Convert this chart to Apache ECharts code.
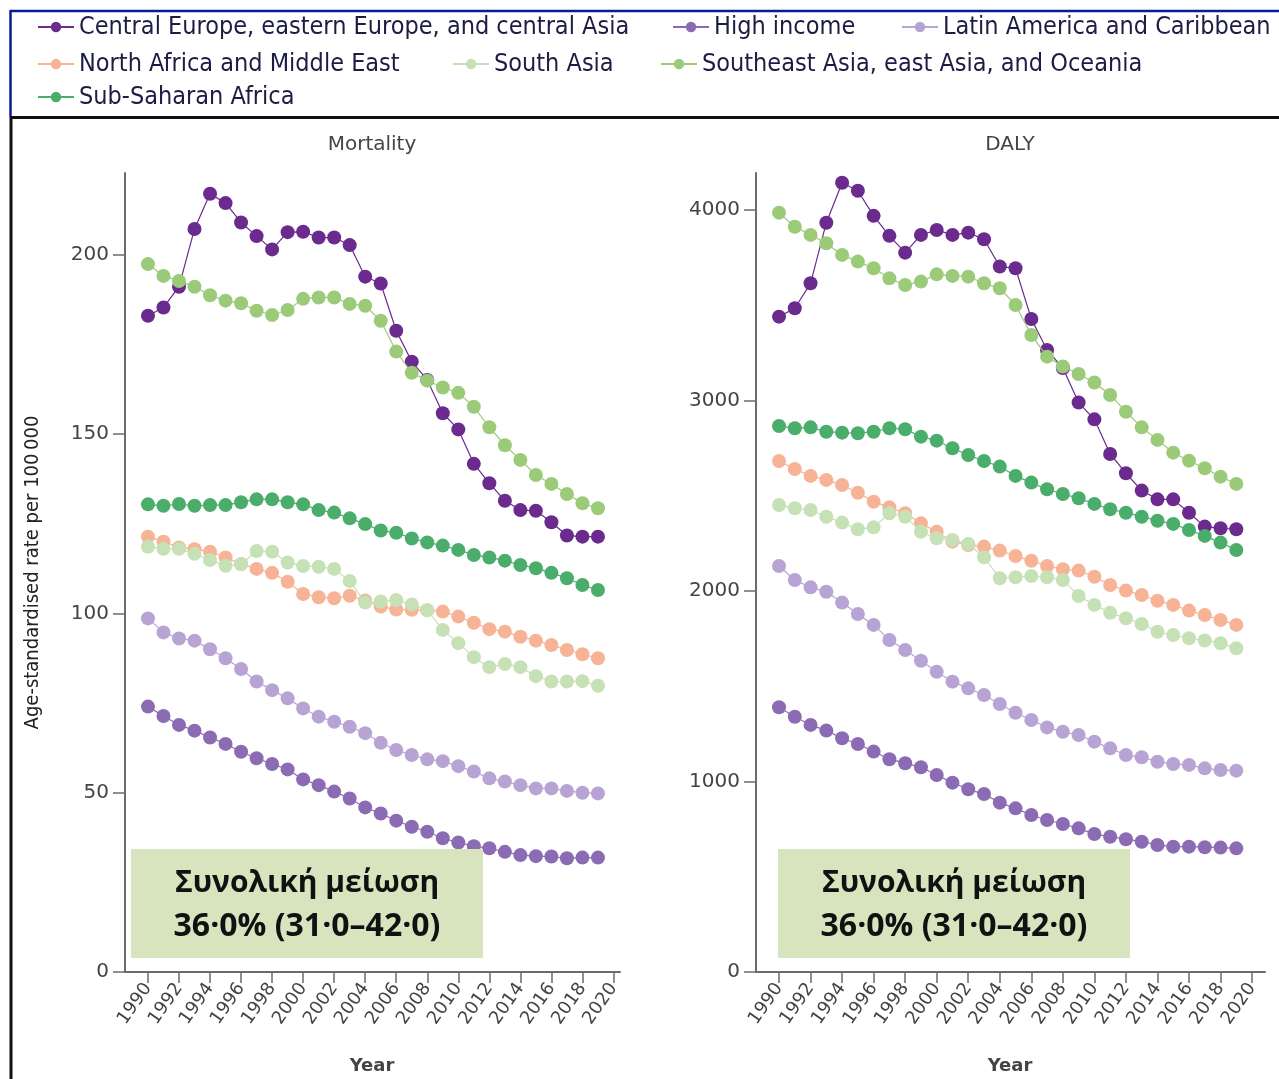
<!DOCTYPE html>
<html>
<head>
<meta charset="utf-8">
<script src="https://cdn.jsdelivr.net/npm/echarts@6/dist/echarts.min.js"></script>
<style>
html,body{margin:0;padding:0;background:#fff;}
#chart{width:1279px;height:1079px;}
</style>
</head>
<body>
<div id="chart"></div>
<script>
// ---------- DATA ----------
const years = [1990,1991,1992,1993,1994,1995,1996,1997,1998,1999,2000,2001,2002,2003,2004,2005,2006,2007,2008,2009,2010,2011,2012,2013,2014,2015,2016,2017,2018,2019];
const yearTicks = [1990,1992,1994,1996,1998,2000,2002,2004,2006,2008,2010,2012,2014,2016,2018,2020];
const mortalityTicks = [0,50,100,150,200];
const dalyTicks = [0,1000,2000,3000,4000];

const regionNames = [
  'Central Europe, eastern Europe, and central Asia',
  'High income',
  'Latin America and Caribbean',
  'North Africa and Middle East',
  'South Asia',
  'Southeast Asia, east Asia, and Oceania',
  'Sub-Saharan Africa'
];

// Mortality (age-standardised rate per 100 000)
const mortCentralEurope = [183,185.3,191.1,207.2,217,214.4,209,205.2,201.5,206.3,206.4,204.8,204.8,202.7,193.9,192,178.8,170.2,165.1,155.8,151.3,141.7,136.3,131.4,128.8,128.6,125.4,121.7,121.4,121.4];
const mortHighIncome    = [74,71.4,68.9,67.3,65.4,63.6,61.4,59.6,58,56.5,53.7,52.1,50.3,48.4,45.9,44.2,42.2,40.5,39.1,37.3,36.1,35.1,34.5,33.5,32.6,32.3,32.2,31.7,31.9,31.9];
const mortLatinAmerica  = [98.6,94.7,93,92.4,90,87.5,84.5,81,78.6,76.3,73.5,71.2,69.8,68.4,66.6,63.9,61.9,60.5,59.3,58.8,57.4,55.9,54,53.1,52.1,51.2,51.2,50.5,50,49.8];
const mortNorthAfrica   = [121.4,120,118.4,117.9,117.2,115.6,113.8,112.4,111.3,108.8,105.4,104.5,104.2,104.9,103.6,101.9,101.1,101,100.9,100.5,99.1,97.4,95.6,94.9,93.5,92.4,91.2,89.8,88.6,87.5];
const mortSouthAsia     = [118.6,118,118,116.6,114.9,113.3,113.7,117.4,117.2,114.2,113.2,113,112.4,109,103,103.3,103.7,102.5,100.9,95.4,91.7,87.8,85,85.9,85,82.5,81,81,81.1,79.8];
const mortSoutheastAsia = [197.4,194.1,192.7,191.1,188.7,187.2,186.5,184.4,183.2,184.6,187.7,188.1,188.1,186.3,185.8,181.6,173,167.1,164.9,163,161.5,157.6,151.9,146.9,142.8,138.6,136.1,133.3,130.7,129.3];
const mortSubSaharan    = [130.4,130,130.5,130,130.2,130.2,131,131.8,131.8,131,130.4,128.8,128.1,126.5,124.9,123.1,122.5,120.9,119.8,118.9,117.7,116.3,115.6,114.7,113.5,112.6,111.3,109.8,107.9,106.5];

// DALY (age-standardised rate per 100 000)
const dalyCentralEurope = [3440,3484,3615,3933,4143,4101,3969,3864,3776,3869,3895,3869,3881,3846,3703,3694,3428,3265,3170,2989,2901,2719,2618,2527,2481,2481,2411,2338,2329,2324];
const dalyHighIncome    = [1390,1340,1297,1267,1227,1197,1157,1117,1096,1075,1034,994,959,934,889,859,824,798,777,754,724,710,697,684,667,658,658,655,653,649];
const dalyLatinAmerica  = [2131,2058,2019,1996,1939,1879,1822,1743,1690,1634,1576,1524,1489,1454,1407,1361,1323,1284,1261,1244,1209,1174,1139,1127,1104,1092,1087,1069,1060,1057];
const dalyNorthAfrica   = [2682,2640,2604,2583,2556,2516,2469,2439,2408,2355,2311,2259,2241,2233,2212,2184,2159,2131,2114,2107,2075,2031,2002,1979,1949,1927,1897,1874,1848,1822];
const dalySouthAsia     = [2451,2434,2425,2390,2359,2324,2334,2408,2390,2311,2277,2268,2247,2177,2067,2072,2079,2072,2058,1974,1927,1886,1857,1827,1786,1769,1752,1740,1726,1699];
const dalySoutheastAsia = [3986,3912,3869,3825,3764,3729,3694,3641,3606,3624,3662,3654,3650,3615,3589,3501,3344,3230,3178,3139,3094,3029,2941,2859,2793,2726,2684,2644,2600,2562];
const dalySubSaharan    = [2866,2854,2859,2836,2831,2828,2836,2854,2849,2810,2789,2749,2714,2682,2653,2604,2569,2534,2509,2487,2457,2429,2411,2390,2369,2352,2320,2289,2254,2215];

const panelTitles = ['Mortality', 'DALY'];
const axisTitleY = 'Age-standardised rate per 100\u2009000';
const axisTitleX = 'Year';
const noteLine1 = 'Συνολική μείωση';
const noteLine2 = '36·0% (31·0–42·0)';

// ---------- STYLE ----------
const colors = ['#6a2a8e','#8b6bb3','#b8a4d4','#f6b396','#c6e1b5','#9bcb79','#4bad6c'];
const mortData = [mortCentralEurope, mortHighIncome, mortLatinAmerica, mortNorthAfrica, mortSouthAsia, mortSoutheastAsia, mortSubSaharan];
const dalyData = [dalyCentralEurope, dalyHighIncome, dalyLatinAmerica, dalyNorthAfrica, dalySouthAsia, dalySoutheastAsia, dalySubSaharan];

const axisColor = '#6b6b6b';
const labelColor = '#444';
const tickFont = 'DejaVu Sans';

function toPairs(arr){ return arr.map((v,i)=>[years[i], v]); }

const series = [];
[mortData, dalyData].forEach((set, gi) => {
  set.forEach((arr, si) => {
    series.push({
      name: regionNames[si],
      type: 'line',
      xAxisIndex: gi, yAxisIndex: gi,
      data: toPairs(arr),
      symbol: 'circle',
      symbolSize: 14,
      showSymbol: true,
      lineStyle: {color: colors[si], width: 1.2},
      itemStyle: {color: colors[si]},
      emphasis: {disabled: true},
      silent: true,
      z: 2 + si
    });
  });
});

function makeXAxis(gi, min, max){
  return {
    type: 'value', gridIndex: gi, min: min, max: max,
    axisLine: {show: true, onZero: false, lineStyle: {color: axisColor, width: 2}},
    axisTick: {show: true, length: 11, customValues: yearTicks, lineStyle: {color: axisColor, width: 1.5}},
    axisLabel: {show: true, customValues: yearTicks, rotate: 55, margin: 13, color: labelColor, fontFamily: tickFont, fontSize: 18,
      formatter: v => String(v)},
    splitLine: {show: false}
  };
}
function makeYAxis(gi, max, ticks, extra){
  return Object.assign({
    type: 'value', gridIndex: gi, min: 0, max: max,
    axisLine: {show: true, lineStyle: {color: axisColor, width: 2}},
    axisTick: {show: true, length: 12, customValues: ticks, lineStyle: {color: axisColor, width: 1.5}},
    axisLabel: {show: true, customValues: ticks, margin: 16, color: labelColor, fontFamily: tickFont, fontSize: 20,
      formatter: v => String(v)},
    splitLine: {show: false}
  }, extra || {});
}

// legends: one per item, placed like the reference
const legendPos = [
  [37, 27], [672, 27], [901, 27],
  [37, 64], [452, 64], [660, 64],
  [37, 97]
];
const legendFont = "'Liberation Sans Narrow', 'DejaVu Sans Condensed', sans-serif";
const legends = regionNames.map((n, i) => ({
  data: [n],
  left: legendPos[i][0],
  top: legendPos[i][1] - 15,
  padding: 0,
  itemWidth: 36,
  itemHeight: 13,
  itemGap: 0,
  selectedMode: false,
  textStyle: {color: '#1c1c44', fontSize: 25, fontFamily: legendFont, lineHeight: 30, padding: [0,0,0,0]},
  lineStyle: {width: 2}
}));

const graphics = [
  // frame
  {type:'line', shape:{x1:10,y1:11,x2:1279,y2:11}, style:{stroke:'#0b1b96', lineWidth:2.5}, silent:true},
  {type:'line', shape:{x1:10.5,y1:10,x2:10.5,y2:117}, style:{stroke:'#0b1b96', lineWidth:2.5}, silent:true},
  {type:'line', shape:{x1:10,y1:117.5,x2:1279,y2:117.5}, style:{stroke:'#111', lineWidth:3}, silent:true},
  {type:'line', shape:{x1:11,y1:117,x2:11,y2:1079}, style:{stroke:'#111', lineWidth:3}, silent:true},
  // panel titles
  {type:'text', style:{x:372, y:145, text:panelTitles[0], textAlign:'center', textVerticalAlign:'middle', fill:'#444', font:'20px "DejaVu Sans"'}, silent:true},
  {type:'text', style:{x:1010, y:145, text:panelTitles[1], textAlign:'center', textVerticalAlign:'middle', fill:'#444', font:'20px "DejaVu Sans"'}, silent:true},
  // x-axis names
  {type:'text', style:{x:372, y:1066, text:axisTitleX, textAlign:'center', textVerticalAlign:'middle', fill:'#444', font:'bold 18px "DejaVu Sans"'}, silent:true},
  {type:'text', style:{x:1010, y:1066, text:axisTitleX, textAlign:'center', textVerticalAlign:'middle', fill:'#444', font:'bold 18px "DejaVu Sans"'}, silent:true},
  // note boxes
  {type:'rect', shape:{x:131, y:849, width:352, height:109}, style:{fill:'#d7e4bd'}, z:50, silent:true},
  {type:'text', style:{x:307, y:883, text:noteLine1, textAlign:'center', textVerticalAlign:'middle', fill:'#111', font:'bold 30px "Open Sans"'}, z:51, silent:true},
  {type:'text', style:{x:307, y:927, text:noteLine2, textAlign:'center', textVerticalAlign:'middle', fill:'#111', font:'bold 32px "Open Sans"'}, z:51, silent:true},
  {type:'rect', shape:{x:778, y:849, width:352, height:109}, style:{fill:'#d7e4bd'}, z:50, silent:true},
  {type:'text', style:{x:954, y:883, text:noteLine1, textAlign:'center', textVerticalAlign:'middle', fill:'#111', font:'bold 30px "Open Sans"'}, z:51, silent:true},
  {type:'text', style:{x:954, y:927, text:noteLine2, textAlign:'center', textVerticalAlign:'middle', fill:'#111', font:'bold 32px "Open Sans"'}, z:51, silent:true}
];

const option = {
  animation: false,
  backgroundColor: '#fff',
  legend: legends,
  grid: [
    {left: 125, top: 173, width: 495, height: 799, containLabel: false},
    {left: 756, top: 173, width: 509, height: 799, containLabel: false}
  ],
  xAxis: [ makeXAxis(0, 1988.52, 2020.42), makeXAxis(1, 1988.54, 2020.82) ],
  yAxis: [
    makeYAxis(0, 222.8, mortalityTicks, {
      name: axisTitleY, nameLocation: 'middle', nameGap: 82, nameRotate: 90,
      nameTextStyle: {color: '#222', fontSize: 20, fontFamily: "'DejaVu Sans Condensed', 'DejaVu Sans'"}
    }),
    makeYAxis(1, 4194, dalyTicks)
  ],
  series: series,
  graphic: graphics
};

const chart = echarts.init(document.getElementById('chart'), null, {renderer: 'canvas'});
chart.setOption(option);
</script>
</body>
</html>
